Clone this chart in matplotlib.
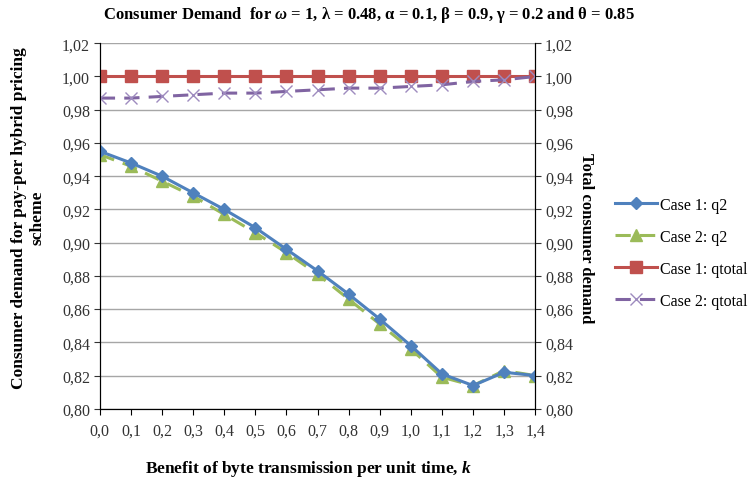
"""
Consumer demand vs. benefit of byte transmission (pay-per hybrid pricing),
two cases, q2 on the left axis and qtotal on the right axis.
"""
import matplotlib.pyplot as plt
from matplotlib.ticker import FuncFormatter

plt.rcParams["font.family"] = ["Liberation Serif", "DejaVu Serif"]
plt.rcParams["mathtext.fontset"] = "custom"
plt.rcParams["mathtext.it"] = "Liberation Serif:italic:bold"
plt.rcParams["mathtext.rm"] = "Liberation Serif:bold"

k_values = [0.0, 0.1, 0.2, 0.3, 0.4, 0.5, 0.6, 0.7, 0.8, 0.9, 1.0, 1.1, 1.2, 1.3, 1.4]
case1_q2 = [0.955, 0.948, 0.940, 0.930, 0.920, 0.909, 0.896, 0.883, 0.869, 0.854,
            0.838, 0.821, 0.814, 0.822, 0.820]
case2_q2 = [0.953, 0.946, 0.937, 0.928, 0.917, 0.906, 0.894, 0.881, 0.866, 0.851,
            0.836, 0.819, 0.814, 0.823, 0.820]
case1_qtotal = [1.000] * 15
case2_qtotal = [0.987, 0.987, 0.988, 0.989, 0.990, 0.990, 0.991, 0.992, 0.993, 0.993,
                0.994, 0.995, 0.997, 0.998, 1.000]
y_ticks = [0.80, 0.82, 0.84, 0.86, 0.88, 0.90, 0.92, 0.94, 0.96, 0.98, 1.00, 1.02]

BLUE, GREEN, RED, PURPLE = "#4F81BD", "#9BBB59", "#C0504D", "#8064A2"
comma = FuncFormatter(lambda v, _: f"{v:.2f}".replace(".", ","))
comma1 = FuncFormatter(lambda v, _: f"{v:.1f}".replace(".", ","))

fig = plt.figure(figsize=(7.56, 4.81), dpi=100)
ax = fig.add_axes([0.132, 0.148, 0.576, 0.76])
ax2 = ax.twinx()

for a in (ax, ax2):
    a.set_ylim(0.80, 1.02)
    a.set_yticks(y_ticks)
    a.yaxis.set_major_formatter(comma)
    a.spines["top"].set_visible(False)
    a.tick_params(axis="y", labelsize=11.5, length=4, pad=3, colors="#333333", labelcolor="#333333")

ax.set_xlim(0.0, 1.4)
ax.set_xticks(k_values)
ax.xaxis.set_major_formatter(comma1)
ax.tick_params(axis="x", labelsize=11.5, length=4, direction="out", pad=6, labelcolor="#333333")
ax.grid(axis="y", color="#A6A6A6", linewidth=1.0)
ax.set_axisbelow(True)

l1, = ax.plot(k_values, case1_q2, color=BLUE, lw=2.2, marker="D", ms=6.5, label="Case 1: q2", zorder=4)
l2, = ax.plot(k_values, case2_q2, color=GREEN, lw=2.2, ls=(0, (5, 3)), marker="^", ms=9,
              label="Case 2: q2", zorder=3)
l3, = ax2.plot(k_values, case1_qtotal, color=RED, lw=2.2, marker="s", ms=8.5, label="Case 1: qtotal")
l4, = ax2.plot(k_values, case2_qtotal, color=PURPLE, lw=2.2, ls=(0, (5, 3)), marker="x", ms=9,
               mew=1.0, mec="#9E8BBF", label="Case 2: qtotal")

ax.set_xlabel("Benefit of byte transmission per unit time, $k$",
              fontsize=12.5, fontweight="bold", labelpad=12)
ax.xaxis.set_label_coords(0.48, -0.135)
ax.set_ylabel("Consumer demand for pay-per hybrid pricing\nscheme",
              fontsize=12.5, fontweight="bold", linespacing=1.2, labelpad=10)
ax.yaxis.set_label_coords(-0.125, 0.525)
ax2.set_ylabel("Total consumer demand", fontsize=12, fontweight="bold", rotation=270, labelpad=15)
ax2.yaxis.set_label_coords(1.135, 0.47)

fig.text(0.488, 0.968,
         "Consumer Demand  for $\\omega$ = 1, λ = 0.48, α = 0.1, β = 0.9, γ = 0.2 and θ = 0.85",
         ha="center", va="center", fontsize=12, fontweight="bold")

fig.legend(handles=[l1, l2, l3, l4], loc="center left", bbox_to_anchor=(0.795, 0.472),
           frameon=False, fontsize=11.5, labelspacing=1.0, handlelength=2.6, handletextpad=0.2)

fig.savefig("out.png", dpi=100)
